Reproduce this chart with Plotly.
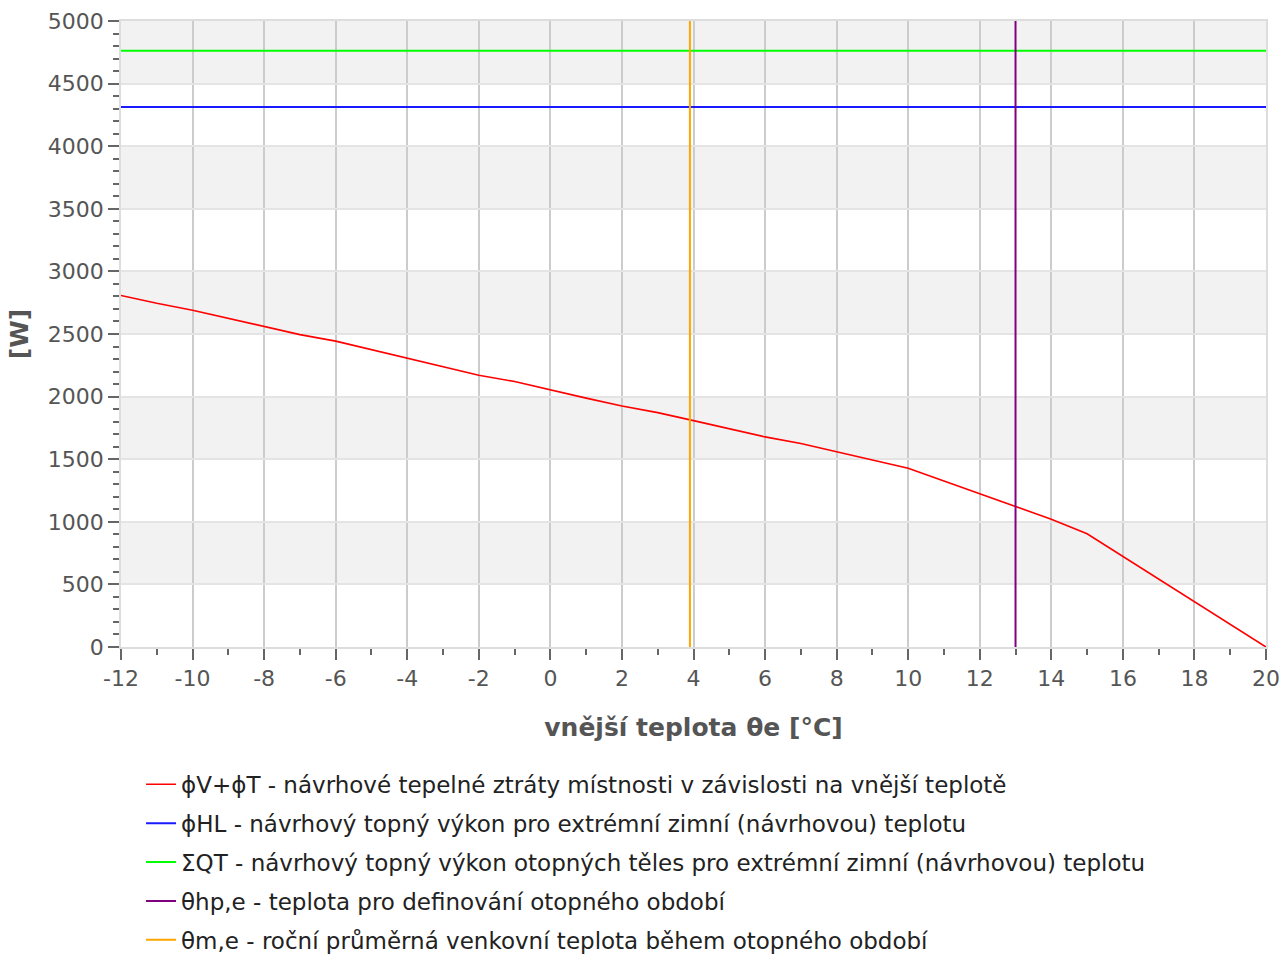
import plotly.graph_objects as go

# ---- data ----
temps = [-12, -11, -10, -9, -8, -7, -6, -5, -4, -3, -2, -1, 0, 1, 2, 3, 4, 5, 6, 7, 8,
         9, 10, 11, 12, 13, 14, 15, 16, 17, 18, 19, 20]
heat_loss = [2808, 2745, 2690, 2625, 2560, 2495, 2443, 2375, 2305, 2237, 2171, 2120, 2051,
             1988, 1925, 1872, 1808, 1742, 1678, 1625, 1560, 1495, 1427, 1325, 1223, 1118,
             1021, 904, 723, 542, 362, 181, 0]
phi_hl = 4313          # blue horizontal
sum_qt = 4763          # green horizontal
theta_hp = 13.0        # purple vertical
theta_me = 3.9         # orange vertical
x_range = [-12, 20]
y_range = [0, 5000]
band_step = 500
x_tickvals = [-12, -10, -8, -6, -4, -2, 0, 2, 4, 6, 8, 10, 12, 14, 16, 18, 20]
x_ticktext = ["-12", "-10", "-8", "-6", "-4", "-2", "0", "2", "4", "6", "8", "10",
              "12", "14", "16", "18", "20"]

names = [
    "ϕV+ϕT - návrhové tepelné ztráty místnosti v závislosti na vnější teplotě",
    "ϕHL - návrhový topný výkon pro extrémní zimní (návrhovou) teplotu",
    "ΣQT - návrhový topný výkon otopných těles pro extrémní zimní (návrhovou) teplotu",
    "θhp,e - teplota pro definování otopného období",
    "θm,e - roční průměrná venkovní teplota během otopného období",
]
colors = ["#ff0000", "#1a1aff", "#00ff00", "#800080", "#ffa500"]
x_title = "vnější teplota θe [°C]"
y_title = "[W]"

fig = go.Figure()
fig.add_trace(go.Scatter(x=temps, y=heat_loss, mode="lines", name=names[0],
                         line=dict(color=colors[0], width=1.6), legendgroup="a"))
fig.add_trace(go.Scatter(x=x_range, y=[phi_hl, phi_hl], mode="lines", name=names[1],
                         line=dict(color=colors[1], width=2), legendgroup="b"))
fig.add_trace(go.Scatter(x=x_range, y=[sum_qt, sum_qt], mode="lines", name=names[2],
                         line=dict(color=colors[2], width=2), legendgroup="c"))
fig.add_trace(go.Scatter(x=[theta_hp, theta_hp], y=y_range, mode="lines", name=names[3],
                         line=dict(color=colors[3], width=2), legendgroup="d"))
fig.add_trace(go.Scatter(x=[theta_me, theta_me], y=y_range, mode="lines", name=names[4],
                         line=dict(color=colors[4], width=2), legendgroup="e"))

# alternating background bands
shapes = []
for i, y0 in enumerate(range(y_range[0], y_range[1], band_step)):
    if i % 2 == 1:
        shapes.append(dict(type="rect", xref="x", yref="y", x0=x_range[0], x1=x_range[1],
                           y0=y0, y1=y0 + band_step, fillcolor="#f2f2f2",
                           line=dict(width=0), layer="below"))

font_family = "DejaVu Sans"
fig.update_layout(
    width=1283, height=956,
    margin=dict(l=121, r=17, t=21, b=309, autoexpand=False),
    paper_bgcolor="white", plot_bgcolor="white",
    shapes=shapes,
    font=dict(family=font_family, size=22, color="#555555"),
    showlegend=True,
    legend=dict(x=0.0175, y=-0.185, xanchor="left", yanchor="top",
                font=dict(family=font_family, size=23, color="#222222"),
                traceorder="grouped", tracegroupgap=6, bgcolor="rgba(0,0,0,0)"),
)
fig.update_xaxes(
    range=x_range, tickmode="array", tickvals=x_tickvals, ticktext=x_ticktext,
    showgrid=True, gridcolor="#cccccc", gridwidth=1.5,
    showline=True, linecolor="#dddddd", linewidth=1.5, mirror=True,
    ticks="outside", ticklen=11, tickcolor="#666666", tickwidth=1.5,
    minor=dict(dtick=1, ticks="outside", ticklen=6, tickcolor="#666666", tickwidth=1.5, showgrid=False),
    zeroline=False, automargin=False, ticklabelstandoff=0, ticklabeloverflow="allow",
    tickfont=dict(family=font_family, size=22, color="#555555"),
    title=dict(text="<b>" + x_title + "</b>", font=dict(family=font_family, size=25, color="#555555"), standoff=28),
)
fig.update_yaxes(
    range=y_range, dtick=500,
    showgrid=True, gridcolor="#e4e4e4", gridwidth=1.5,
    showline=True, linecolor="#dddddd", linewidth=1.5, mirror=True,
    ticks="outside", ticklen=11, tickcolor="#666666", tickwidth=1.5,
    minor=dict(dtick=100, ticks="outside", ticklen=6, tickcolor="#666666", tickwidth=1.5, showgrid=False),
    zeroline=False, automargin=False, ticklabelstandoff=0, ticklabeloverflow="allow",
    tickfont=dict(family=font_family, size=22, color="#555555"),
    title=dict(text="<b>" + y_title + "</b>", font=dict(family=font_family, size=25, color="#555555"), standoff=12),
)

# remove the default 8px page margin so the 1283x956 figure fills the window exactly
fig.write_html("out.html", config={"displayModeBar": False},
               post_script="document.body.style.margin='0';document.body.style.overflow='hidden';")
